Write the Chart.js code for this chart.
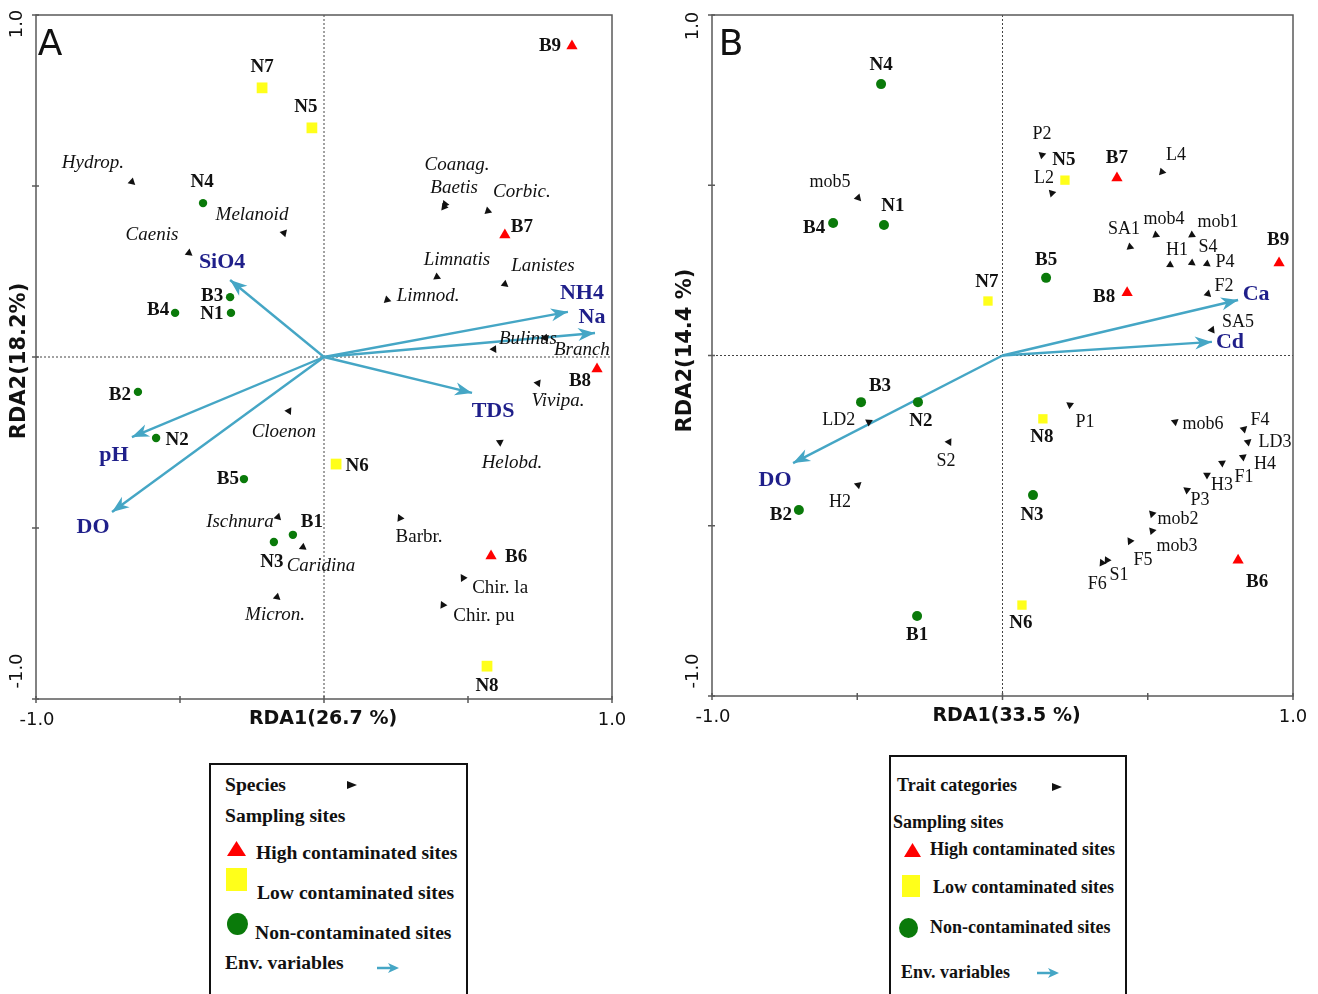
<!DOCTYPE html>
<html>
<head>
<meta charset="utf-8">
<script src="https://cdn.jsdelivr.net/npm/chart.js@4.4.1/dist/chart.umd.min.js"></script>
<style>
  body { margin: 0; background: #fff; width: 1318px; height: 994px; position: relative; overflow: hidden; }
  canvas { position: absolute; top: 0; }
  #chartA { left: 0; }
  #chartB { left: 660px; }
  .legend { position: absolute; border: 2px solid #111; background: #fff; font-family: 'Liberation Serif', serif; font-weight: bold; color: #111; }
  .legend span, .legend svg { position: absolute; white-space: nowrap; line-height: 20px; }
  #legA { left: 209px; top: 763px; width: 255px; height: 260px; font-size: 19.6px; }
  #legB { left: 889px; top: 755px; width: 234px; height: 260px; font-size: 18px; }
</style>
</head>
<body>
<canvas id="chartA" width="660" height="745"></canvas>
<canvas id="chartB" width="658" height="745"></canvas>

<div class="legend" id="legA">
  <span style="left:14px;top:10px">Species</span>
  <svg style="left:136px;top:16px" width="10" height="8"><polygon points="0,0 10,4 0,8" fill="#111"/></svg>
  <span style="left:14px;top:41px">Sampling sites</span>
  <svg style="left:16px;top:76px" width="19" height="15"><polygon points="9.5,0 19,15 0,15" fill="#ff0000"/></svg>
  <span style="left:45px;top:78px">High contaminated sites</span>
  <svg style="left:15px;top:103px" width="21" height="23"><rect width="21" height="23" fill="#ffff1a"/></svg>
  <span style="left:46px;top:118px">Low contaminated sites</span>
  <svg style="left:16px;top:148px" width="21" height="22"><ellipse cx="10.5" cy="11" rx="10.5" ry="11" fill="#0a7a0a"/></svg>
  <span style="left:44px;top:158px">Non-contaminated sites</span>
  <span style="left:14px;top:188px">Env. variables</span>
  <svg style="left:166px;top:198px" width="22" height="10"><line x1="0" y1="5" x2="14" y2="5" stroke="#45a6c5" stroke-width="2.5"/><polygon points="22,5 11,0 14,5 11,10" fill="#45a6c5"/></svg>
</div>

<div class="legend" id="legB">
  <span style="left:6px;top:18px">Trait categories</span>
  <svg style="left:161px;top:26px" width="10" height="8"><polygon points="0,0 10,4 0,8" fill="#111"/></svg>
  <span style="left:2px;top:55px">Sampling sites</span>
  <svg style="left:13px;top:86px" width="17" height="14"><polygon points="8.5,0 17,14 0,14" fill="#ff0000"/></svg>
  <span style="left:39px;top:82px">High contaminated sites</span>
  <svg style="left:11px;top:118px" width="18" height="22"><rect width="18" height="22" fill="#ffff1a"/></svg>
  <span style="left:42px;top:120px">Low contaminated sites</span>
  <svg style="left:8px;top:161px" width="19" height="20"><ellipse cx="9.5" cy="10" rx="9.5" ry="10" fill="#0a7a0a"/></svg>
  <span style="left:39px;top:160px">Non-contaminated sites</span>
  <span style="left:10px;top:205px">Env. variables</span>
  <svg style="left:146px;top:211px" width="22" height="10"><line x1="0" y1="5" x2="14" y2="5" stroke="#45a6c5" stroke-width="2.5"/><polygon points="22,5 11,0 14,5 11,10" fill="#45a6c5"/></svg>
</div>

<script>
// ---------- Panel A: species RDA ----------
const siteNamesA = ['B6','B7','B8','B9','N5','N6','N7','N8','B1','B2','B3','B4','B5','N1','N2','N3','N4'];
const siteTypeA  = ['H','H','H','H','L','L','L','L','N','N','N','N','N','N','N','N','N'];
const siteXA = [0.580, 0.628, 0.948, 0.861, -0.042, 0.042, -0.215, 0.566, -0.108, -0.646, -0.326, -0.517, -0.278, -0.323, -0.583, -0.174, -0.420];
const siteYA = [-0.582, 0.357, -0.035, 0.909, 0.670, -0.313, 0.787, -0.904, -0.520, -0.102, 0.175, 0.129, -0.357, 0.129, -0.237, -0.541, 0.450];

const speciesNamesA = ['Hydrop.','Melanoid','Caenis','Coanag.','Baetis','Corbic.','Limnatis','Lanistes','Limnod.','Bulinus','Branch','Vivipa.','Cloenon','Helobd.','Ischnura','Caridina','Micron.','Barbr.','Chir. la','Chir. pu'];
const speciesXA = [-0.667, -0.139, -0.469, 0.420, 0.417, 0.569, 0.392, 0.628, 0.219, 0.590, 0.767, 0.743, -0.122, 0.611, -0.160, -0.073, -0.163, 0.264, 0.483, 0.413];
const speciesYA = [0.512, 0.363, 0.304, 0.447, 0.439, 0.427, 0.234, 0.213, 0.167, 0.023, 0.056, -0.076, -0.158, -0.249, -0.468, -0.556, -0.702, -0.471, -0.646, -0.725];
const uprightA = ['Barbr.','Chir. la','Chir. pu'];

const envNamesA = ['SiO4','NH4','Na','TDS','pH','DO'];
const envXA = [-0.326, 0.847, 0.941, 0.514, -0.667, -0.736];
const envYA = [0.225, 0.132, 0.070, -0.105, -0.234, -0.453];

// ---------- Panel B: trait RDA ----------
const siteNamesB = ['B6','B7','B8','B9','N5','N6','N7','N8','B1','B2','B3','B4','B5','N1','N2','N3','N4'];
const siteTypeB  = ['H','H','H','H','L','L','L','L','N','N','N','N','N','N','N','N','N'];
const siteXB = [0.811, 0.394, 0.429, 0.952, 0.215, 0.067, -0.050, 0.139, -0.294, -0.701, -0.487, -0.583, 0.150, -0.408, -0.291, 0.105, -0.418];
const siteYB = [-0.601, 0.521, 0.184, 0.272, 0.515, -0.733, 0.160, -0.186, -0.765, -0.454, -0.137, 0.389, 0.228, 0.383, -0.137, -0.410, 0.797];

const traitNamesB = ['P2','L2','mob5','L4','SA1','mob4','mob1','H1','S4','P4','F2','SA5','P1','mob6','F4','LD3','H4','F1','H3','P3','mob2','mob3','F5','S1','F6','LD2','S2','H2'];
const traitXB = [0.136, 0.170, -0.497, 0.549, 0.439, 0.528, 0.652, 0.577, 0.652, 0.704, 0.707, 0.721, 0.232, 0.594, 0.831, 0.845, 0.828, 0.756, 0.704, 0.635, 0.515, 0.515, 0.439, 0.360, 0.343, -0.460, -0.184, -0.497];
const traitYB = [0.589, 0.477, 0.463, 0.539, 0.319, 0.354, 0.354, 0.266, 0.272, 0.269, 0.181, 0.075, -0.145, -0.195, -0.216, -0.254, -0.298, -0.316, -0.351, -0.395, -0.465, -0.515, -0.545, -0.601, -0.609, -0.195, -0.254, -0.380];

const envNamesB = ['Ca','Cd','DO'];
const envXB = [0.811, 0.721, -0.721];
const envYB = [0.163, 0.040, -0.316];

// label offsets in pixels (label centre relative to the point)
const labelOffA = {
  B9:[-22,0], N7:[0,-21], N5:[-6,-21], N4:[-1,-21], B7:[17,-8], B3:[-18,-1], N1:[-19,1], B4:[-17,-3],
  B8:[-17,12], B2:[-18,3], N2:[21,2], B5:[-16,0], N6:[21,2], B1:[19,-13], N3:[-2,20], B6:[25,1], N8:[0,20],
  'Hydrop.':[-39,-19], Melanoid:[-32,-18], Caenis:[-37,-18], 'Coanag.':[12,-39], Baetis:[10,-19],
  'Corbic.':[34,-19], Limnatis:[20,-17], Lanistes:[38,-18], 'Limnod.':[41,-4], Bulinus:[34,-10],
  Branch:[37,12], 'Vivipa.':[20,18], Cloenon:[-5,21], 'Helobd.':[12,21], Ischnura:[-38,5],
  Caridina:[18,19], 'Micron.':[-2,18], 'Barbr.':[19,19], 'Chir. la':[37,10], 'Chir. pu':[41,11],
  SiO4:[-8,-18], NH4:[14,-19], Na:[-3,-16], TDS:[21,18], pH:[-18,18], DO:[-19,15]
};
const labelOffB = {
  N4:[0,-19], N1:[9,-19], B4:[-19,5], N5:[-1,-20], B7:[0,-20], B5:[0,-18], N7:[-1,-19], B8:[-23,4],
  B9:[-1,-23], B3:[19,-16], N2:[3,19], B2:[-18,5], B1:[0,19], N8:[-1,18], N3:[-1,20], N6:[-1,18], B6:[19,22],
  P2:[0,-21], L2:[-8,-15], mob5:[-28,-16], L4:[14,-17], SA1:[-6,-18], mob4:[8,-16], mob1:[26,-13],
  H1:[7,-15], S4:[16,-16], P4:[18,-2], F2:[16,-8], SA5:[26,-8], P1:[15,17], mob6:[28,2], F4:[16,-9],
  LD3:[27,0], H4:[22,7], F1:[22,14], H3:[15,10], P3:[13,10], mob2:[26,5], mob3:[25,15], F5:[13,19],
  S1:[12,15], F6:[-5,21], LD2:[-30,-2], S2:[-3,19], H2:[-18,17],
  Ca:[18,-6], Cd:[18,0], DO:[-18,17]
};

const RED = '#ff0000', YELLOW = '#ffff1a', GREEN = '#0a7a0a', CYAN = '#45a6c5', NAVY = '#1f1f8a';
const SERIF = "'Liberation Serif', 'Times New Roman', serif";
const SANS = "'DejaVu Sans', Verdana, sans-serif";

function pts(xs, ys) { return xs.map((v, i) => ({x: v, y: ys[i]})); }
function pick(xs, ys, types, t) {
  const out = [];
  types.forEach((tt, i) => { if (tt === t) out.push({x: xs[i], y: ys[i]}); });
  return out;
}

function arrowHead(ctx, fx, fy, tx, ty) {
  const ang = Math.atan2(ty - fy, tx - fx);
  ctx.save();
  ctx.translate(tx, ty);
  ctx.rotate(ang);
  ctx.beginPath();
  ctx.moveTo(0, 0);
  ctx.lineTo(-17, -6.5);
  ctx.lineTo(-12, 0);
  ctx.lineTo(-17, 6.5);
  ctx.closePath();
  ctx.fill();
  ctx.restore();
}

// frame, dotted zero lines, ticks, arrowheads and all labels
const rdaDecor = {
  id: 'rdaDecor',
  beforeDatasetsDraw(chart, args, o) {
    const {ctx, chartArea: a, scales: {x, y}} = chart;
    const x0 = x.getPixelForValue(0), y0 = y.getPixelForValue(0);
    ctx.save();
    ctx.strokeStyle = '#444';
    ctx.lineWidth = 1;
    ctx.setLineDash([2, 2]);
    ctx.beginPath();
    ctx.moveTo(x0, a.top); ctx.lineTo(x0, a.bottom);
    ctx.moveTo(a.left, y0); ctx.lineTo(a.right, y0);
    ctx.stroke();
    ctx.setLineDash([]);
    ctx.strokeStyle = '#5a5a5a';
    ctx.lineWidth = 1.5;
    ctx.strokeRect(a.left, a.top, a.width, a.height);
    ctx.beginPath();
    [-1, -0.5, 0, 0.5, 1].forEach(v => {
      const px = x.getPixelForValue(v), py = y.getPixelForValue(v);
      ctx.moveTo(px, a.bottom - 3); ctx.lineTo(px, a.bottom + 4);
      ctx.moveTo(a.left - 4, py); ctx.lineTo(a.left + 3, py);
    });
    ctx.stroke();
    ctx.restore();
  },
  afterDatasetsDraw(chart, args, o) {
    const {ctx, chartArea: a, scales: {x, y}} = chart;
    const x0 = x.getPixelForValue(0), y0 = y.getPixelForValue(0);
    ctx.save();
    // arrow heads
    ctx.fillStyle = CYAN;
    o.envX.forEach((v, i) => arrowHead(ctx, x0, y0, x.getPixelForValue(v), y.getPixelForValue(o.envY[i])));

    ctx.textAlign = 'center';
    ctx.textBaseline = 'middle';
    const put = (names, xs, ys, fontFn, color) => {
      names.forEach((n, i) => {
        const off = o.offsets[n] || [0, -16];
        ctx.font = fontFn(n);
        ctx.fillStyle = color;
        ctx.fillText(n, x.getPixelForValue(xs[i]) + off[0], y.getPixelForValue(ys[i]) + off[1]);
      });
    };
    put(o.markNames, o.markX, o.markY, o.markFont, '#111');
    put(o.siteNames, o.siteX, o.siteY, () => 'bold 19px ' + SERIF, '#111');
    put(o.envNames, o.envX, o.envY, () => 'bold 22px ' + SERIF, NAVY);

    // panel letter
    ctx.fillStyle = '#111';
    ctx.font = '36px ' + SANS;
    ctx.fillText(o.letter, a.left + o.letterDx, a.top + 31);

    // tick labels
    ctx.font = '18px ' + SANS;
    ctx.fillText('-1.0', a.left + 1, a.bottom + 21);
    ctx.fillText('1.0', a.right, a.bottom + 21);
    [[1, a.top + o.yTopDy], [-1, a.bottom + o.yBotDy]].forEach(([v, py]) => {
      ctx.save();
      ctx.translate(a.left - 19, py);
      ctx.rotate(-Math.PI / 2);
      ctx.fillText(v === 1 ? '1.0' : '-1.0', 0, 0);
      ctx.restore();
    });

    // axis titles
    ctx.font = 'bold 19px ' + SANS;
    ctx.fillText(o.xTitle, x0 + o.xTitleDx, a.bottom + 20);
    ctx.save();
    ctx.font = 'bold 21px ' + SANS;
    ctx.translate(a.left + o.yTitleDx, y0 + o.yTitleDy);
    ctx.rotate(-Math.PI / 2);
    ctx.fillText(o.yTitle, 0, 0);
    ctx.restore();
    ctx.restore();
  }
};

function towardOrigin(c) {
  const p = c.raw;
  if (!p) return 0;
  const sx = c.chart.chartArea ? c.chart.chartArea.width / 2 : 288;
  const sy = c.chart.chartArea ? c.chart.chartArea.height / 2 : 342;
  const dxs = -p.x * sx, dys = p.y * sy;
  return Math.atan2(dxs, -dys) * 180 / Math.PI;
}

function makeChart(id, cfg) {
  const datasets = [];
  datasets.push({label: 'High contaminated sites', data: pick(cfg.siteX, cfg.siteY, cfg.siteType, 'H'),
    pointStyle: 'triangle', pointRadius: 6.5, backgroundColor: RED, borderColor: RED, borderWidth: 0, order: 0});
  datasets.push({label: 'Low contaminated sites', data: pick(cfg.siteX, cfg.siteY, cfg.siteType, 'L'),
    pointStyle: 'rect', pointRadius: cfg.squareR, backgroundColor: YELLOW, borderColor: YELLOW, borderWidth: 0, order: 1});
  datasets.push({label: 'Non-contaminated sites', data: pick(cfg.siteX, cfg.siteY, cfg.siteType, 'N'),
    pointStyle: 'circle', pointRadius: cfg.circleR, backgroundColor: GREEN, borderColor: GREEN, borderWidth: 0, order: 2});
  datasets.push({label: cfg.markLabel, data: pts(cfg.markX, cfg.markY),
    pointStyle: 'triangle', pointRadius: 4.5, pointRotation: towardOrigin,
    backgroundColor: '#111', borderColor: '#111', borderWidth: 0, order: 3});
  cfg.envNames.forEach((n, i) => {
    datasets.push({label: n, data: [{x: 0, y: 0}, {x: cfg.envX[i], y: cfg.envY[i]}], showLine: true,
      pointRadius: 0, borderColor: CYAN, borderWidth: 2.4, order: 4});
  });

  return new Chart(document.getElementById(id), {
    type: 'scatter',
    data: {datasets},
    options: {
      responsive: false,
      animation: false,
      events: [],
      layout: {padding: cfg.padding},
      scales: {
        x: {type: 'linear', min: -1, max: 1, display: false},
        y: {type: 'linear', min: -1, max: 1, display: false}
      },
      plugins: {
        legend: {display: false},
        tooltip: {enabled: false},
        rdaDecor: {
          letter: cfg.letter, letterDx: cfg.letterDx,
          xTitle: cfg.xTitle, yTitle: cfg.yTitle,
          xTitleDx: cfg.xTitleDx, yTitleDx: cfg.yTitleDx, yTitleDy: cfg.yTitleDy,
          yTopDy: cfg.yTopDy, yBotDy: cfg.yBotDy,
          offsets: cfg.offsets,
          siteNames: cfg.siteNames, siteX: cfg.siteX, siteY: cfg.siteY,
          markNames: cfg.markNames, markX: cfg.markX, markY: cfg.markY, markFont: cfg.markFont,
          envNames: cfg.envNames, envX: cfg.envX, envY: cfg.envY
        }
      }
    },
    plugins: [rdaDecor]
  });
}

makeChart('chartA', {
  letter: 'A', letterDx: 14, xTitle: 'RDA1(26.7 %)', yTitle: 'RDA2(18.2%)',
  xTitleDx: -1, yTitleDx: -16, yTitleDy: 4, yTopDy: 9, yBotDy: -28,
  padding: {left: 36, top: 15, right: 48, bottom: 46},
  squareR: 7.6, circleR: 4.2,
  offsets: labelOffA,
  siteNames: siteNamesA, siteType: siteTypeA, siteX: siteXA, siteY: siteYA,
  markLabel: 'Species', markNames: speciesNamesA, markX: speciesXA, markY: speciesYA,
  markFont: n => (uprightA.includes(n) ? '' : 'italic ') + '19px ' + SERIF,
  envNames: envNamesA, envX: envXA, envY: envYA
});

makeChart('chartB', {
  letter: 'B', letterDx: 19, xTitle: 'RDA1(33.5 %)', yTitle: 'RDA2(14.4 %)',
  xTitleDx: 4, yTitleDx: -26, yTitleDy: -5, yTopDy: 11, yBotDy: -25,
  padding: {left: 52, top: 15, right: 25, bottom: 49},
  squareR: 6.6, circleR: 5,
  offsets: labelOffB,
  siteNames: siteNamesB, siteType: siteTypeB, siteX: siteXB, siteY: siteYB,
  markLabel: 'Trait categories', markNames: traitNamesB, markX: traitXB, markY: traitYB,
  markFont: () => '18px ' + SERIF,
  envNames: envNamesB, envX: envXB, envY: envYB
});
</script>
</body>
</html>
